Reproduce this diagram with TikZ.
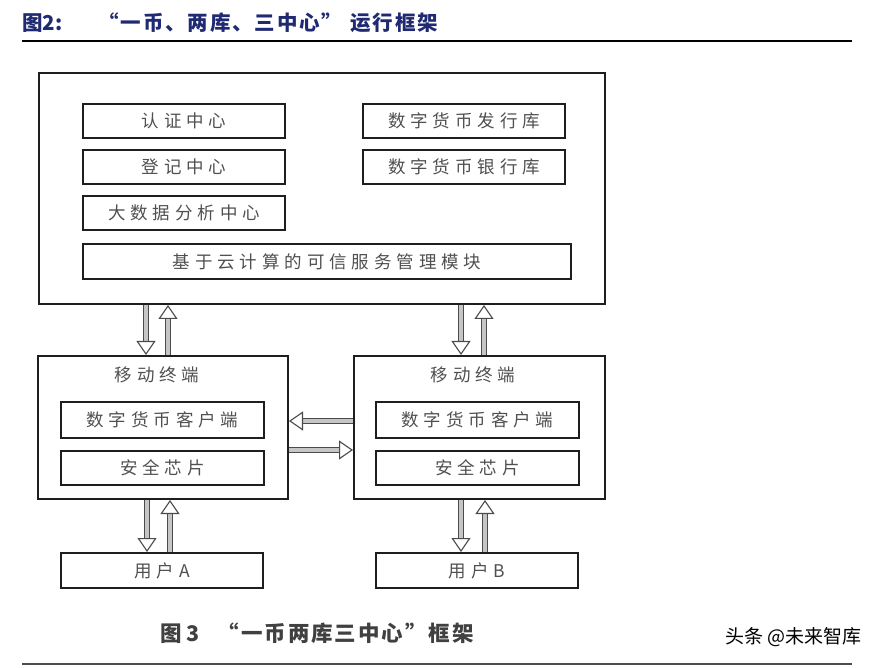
\documentclass[tikz,border=0pt]{standalone}
\usepackage{fontspec}
\usetikzlibrary{arrows.meta}
\newfontfamily\cjk{Noto Sans CJK SC}
\newfontfamily\cjkls[LetterSpace=28]{Noto Sans CJK SC}
\newfontfamily\cjkt[LetterSpace=9]{Noto Sans CJK SC}
\definecolor{titleblue}{HTML}{1F2A72}
\definecolor{boxtext}{HTML}{505050}
\definecolor{boxline}{HTML}{1E1E1E}
\begin{document}
\begin{tikzpicture}[x=1pt,y=-1pt,
  outer/.style={draw=boxline,line width=2pt,anchor=north west,inner sep=0pt},
  inbox/.style={draw=boxline,line width=2pt,anchor=north west,inner sep=0pt,
     text=boxtext,font=\cjkls\fontsize{17.5}{19}\selectfont,align=center},
  lbl/.style={text=boxtext,font=\cjkls\fontsize{17.5}{19}\selectfont,inner sep=0pt},
  blk/.style={line width=1.1pt,draw=boxline!80,double=gray!45,double distance=3.5pt,
     -{Triangle[open,length=14pt,width=19pt,line width=1.1pt]}}]
\useasboundingbox (0,0) rectangle (879,668);
\fill[white] (0,0) rectangle (879,668);
% title
\node[anchor=west,inner sep=0pt,text=titleblue,font=\cjk\bfseries\fontsize{20.5}{22}\selectfont] (title) at (22,23) {图2:\hspace{36pt}{\cjkt\bfseries “一币、两库、三中心”\hspace{8pt}运行框架}};
\draw[line width=2pt] (22,41) -- (852,41);
% big box
\node[outer,minimum width=566pt,minimum height=231pt] (big) at (38,72) {};
\node[inbox,minimum width=202pt,minimum height=34pt] (rz) at (82,103) {认证中心};
\node[inbox,minimum width=202pt,minimum height=34pt] (dj) at (82,149) {登记中心};
\node[inbox,minimum width=202pt,minimum height=34pt] (dsj) at (82,195) {大数据分析中心};
\node[inbox,minimum width=202pt,minimum height=34pt] (fx) at (362,103) {数字货币发行库};
\node[inbox,minimum width=202pt,minimum height=34pt] (yh) at (362,149) {数字货币银行库};
\node[inbox,minimum width=488pt,minimum height=35pt] (yun) at (82,243) {基于云计算的可信服务管理模块};
% mobile boxes
\node[outer,minimum width=250pt,minimum height=143pt] (mobL) at (37,355) {};
\node[outer,minimum width=251pt,minimum height=143pt] (mobR) at (353,355) {};
\node[lbl] (mtL) at (157,375) {移动终端};
\node[lbl] (mtR) at (473,375) {移动终端};
\node[inbox,minimum width=203pt,minimum height=36pt] (khL) at (60,401) {数字货币客户端};
\node[inbox,minimum width=203pt,minimum height=34pt] (xpL) at (60,450) {安全芯片};
\node[inbox,minimum width=203pt,minimum height=36pt] (khR) at (375,401) {数字货币客户端};
\node[inbox,minimum width=203pt,minimum height=34pt] (xpR) at (375,450) {安全芯片};
% users
\node[inbox,minimum width=202pt,minimum height=35pt] (uA) at (60,552) {用户A};
\node[inbox,minimum width=202pt,minimum height=35pt] (uB) at (375,552) {用户B};
% arrow guide coordinates
\coordinate (c1) at (146,0);
\coordinate (c2) at (168,0);
\coordinate (c3) at (461,0);
\coordinate (c4) at (484,0);
\coordinate (c5) at (147,0);
\coordinate (c6) at (170,0);
\coordinate (c7) at (461,0);
\coordinate (c8) at (485,0);
\coordinate (h1) at (0,421);
\coordinate (h2) at (0,450);
% vertical arrows top
\draw[blk] (big.south -| c1) -- (mobL.north -| c1);
\draw[blk] (mobL.north -| c2) -- (big.south -| c2);
\draw[blk] (big.south -| c3) -- (mobR.north -| c3);
\draw[blk] (mobR.north -| c4) -- (big.south -| c4);
% horizontal arrows
\draw[blk] (mobR.west |- h1) -- (mobL.east |- h1);
\draw[blk] (mobL.east |- h2) -- (mobR.west |- h2);
% vertical arrows bottom
\draw[blk] (mobL.south -| c5) -- (uA.north -| c5);
\draw[blk] (uA.north -| c6) -- (mobL.south -| c6);
\draw[blk] (mobR.south -| c7) -- (uB.north -| c7);
\draw[blk] (uB.north -| c8) -- (mobR.south -| c8);
% caption
\node[anchor=west,inner sep=0pt,text=black!75,font=\cjk\bfseries\fontsize{21.5}{23}\selectfont] (cap) at (160,633) {图 3\hspace{18pt}{\cjkt\bfseries “一币两库三中心”框架}};
\node[anchor=east,inner sep=0pt,text=black,font=\cjk\fontsize{19}{21}\selectfont] (wm) at (862,637) {头条 @未来智库};
\draw[line width=1.2pt,black!70] (22,664) -- (852,664);
\end{tikzpicture}
\end{document}
